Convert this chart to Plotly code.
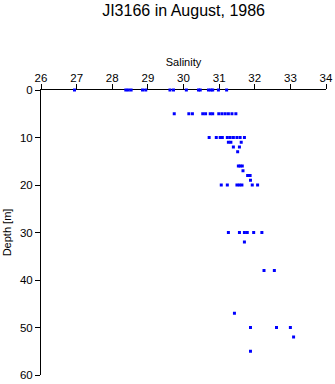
import plotly.graph_objects as go

title_text = "JI3166 in August, 1986"
x_label = "Salinity"
y_label = "Depth [m]"

depth = [0]*16 + [5]*13 + [10]*10 + [11]*3 + [12]*2 + [13] + [16]*3 + [17] + [18]*2 + [19] + [20]*7 \
    + [30]*6 + [32] + [38]*2 + [47] + [50]*3 + [52] + [55]
salinity = [
    26.94, 28.38, 28.45, 28.53, 28.85, 28.94, 29.62, 29.72, 30.08, 30.42, 30.47, 30.70, 30.77, 30.82, 30.98, 31.21,
    29.74, 30.15, 30.25, 30.54, 30.62, 30.75, 30.82, 30.99, 31.08, 31.17, 31.26, 31.36, 31.47,
    30.72, 30.92, 31.03, 31.09, 31.23, 31.31, 31.40, 31.50, 31.59, 31.71,
    31.26, 31.33, 31.62,
    31.40, 31.57,
    31.52,
    31.54, 31.59, 31.65,
    31.67,
    31.80, 31.87,
    31.88,
    31.06, 31.23, 31.50, 31.57, 31.64, 31.93, 32.08,
    31.26, 31.57, 31.71, 31.79, 31.97, 32.20,
    31.71,
    32.26, 32.55,
    31.43,
    31.88, 32.61, 33.00,
    33.09,
    31.88,
]

fig = go.Figure(go.Scatter(
    x=salinity, y=depth, mode="markers",
    marker=dict(symbol="square", size=3, color="#0000ff", line=dict(width=0)),
    cliponaxis=False,
))

font = "Liberation Sans, Arial, sans-serif"
fig.update_layout(
    width=335, height=384, autosize=False,
    margin=dict(l=41, r=9, t=90, b=9),
    paper_bgcolor="white", plot_bgcolor="white",
    showlegend=False,
    font=dict(family=font, size=11, color="black"),
    title=dict(text=title_text, x=0.548, xanchor="center", y=0.974, yanchor="middle",
               font=dict(family=font, size=16, color="black")),
    xaxis=dict(side="top", range=[26, 34], dtick=1, tick0=26, ticks="outside", ticklen=5,
               tickcolor="black", showline=True, linecolor="black", linewidth=1,
               showgrid=False, zeroline=False, layer="below traces", automargin=False,
               tickfont=dict(size=11.5), ticklabelstandoff=-3,
               title=dict(text=x_label, standoff=3, font=dict(size=11))),
    yaxis=dict(range=[60, 0], dtick=10, tick0=0, ticks="outside", ticklen=5,
               tickcolor="black", showline=True, linecolor="black", linewidth=1,
               showgrid=False, zeroline=False, layer="below traces", automargin=False,
               tickfont=dict(size=11.5),
               title=dict(text=y_label, standoff=6, font=dict(size=11))),
)

fig.write_html("out.html")
